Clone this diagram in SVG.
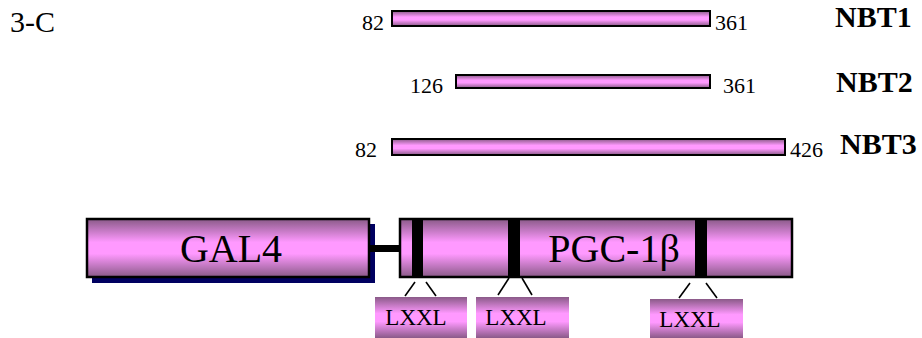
<svg xmlns="http://www.w3.org/2000/svg" width="922" height="338" viewBox="0 0 922 338">
<defs>
<linearGradient id="g" x1="0" y1="0" x2="0" y2="1">
<stop offset="0" stop-color="#8a5a88"/>
<stop offset="0.4" stop-color="#ff99ff"/>
<stop offset="0.6" stop-color="#ff99ff"/>
<stop offset="1" stop-color="#8a5a88"/>
</linearGradient>
<style>
.t{font-family:"Liberation Serif","Times New Roman",serif;fill:#000}
.num{font-size:22px}
.nbt{font-size:30px;font-weight:bold}
.big{font-size:40px}
.lx{font-size:23px}
.bar{fill:url(#g);stroke:#000;stroke-width:2}
.box{fill:url(#g);stroke:#000;stroke-width:2.5}
.lb{fill:url(#g)}
.ln{stroke:#000;stroke-width:1.6;fill:none}
</style>
</defs>
<rect width="922" height="338" fill="#fff"/>
<text class="t" x="10" y="32" font-size="30">3-C</text>

<g id="nbt1">
<rect class="bar" x="392" y="11" width="318" height="15"/>
<text class="t num" x="362" y="30">82</text>
<text class="t num" x="715" y="30">361</text>
<text class="t nbt" x="835" y="27">NBT1</text>
</g>
<g id="nbt2">
<rect class="bar" x="456" y="75" width="254" height="13"/>
<text class="t num" x="410" y="93">126</text>
<text class="t num" x="723" y="93">361</text>
<text class="t nbt" x="836" y="92">NBT2</text>
</g>
<g id="nbt3">
<rect class="bar" x="392" y="139" width="393" height="16"/>
<text class="t num" x="355" y="157">82</text>
<text class="t num" x="790" y="157">426</text>
<text class="t nbt" x="840" y="154">NBT3</text>
</g>

<g id="gal4">
<rect x="92" y="224" width="283" height="59" fill="#000060"/>
<rect class="box" x="87" y="219" width="282" height="58"/>
<text class="t big" x="231" y="262" text-anchor="middle">GAL4</text>
</g>

<g id="connectors">
<line x1="368" y1="248.5" x2="401" y2="248.5" stroke="#000" stroke-width="7"/>
<line class="ln" x1="405" y1="296" x2="415" y2="282"/>
<line class="ln" x1="426" y1="282" x2="436" y2="296"/>
<line class="ln" x1="498" y1="295" x2="509" y2="278"/>
<line class="ln" x1="522" y1="278" x2="532" y2="295"/>
<line class="ln" x1="679" y1="298" x2="690" y2="283"/>
<line class="ln" x1="706" y1="283" x2="717" y2="298"/>
</g>

<g id="pgc1b">
<rect class="box" x="400" y="219" width="392" height="58"/>
<rect x="412" y="220" width="11" height="57" fill="#000"/>
<rect x="508" y="220" width="12" height="58" fill="#000"/>
<rect x="695" y="220" width="12" height="57" fill="#000"/>
<text class="t big" x="614" y="262" text-anchor="middle">PGC-1β</text>
</g>

<g id="lxxl1">
<rect class="lb" x="375" y="297" width="92" height="41"/>
<text class="t lx" x="416" y="325" text-anchor="middle">LXXL</text>
</g>
<g id="lxxl2">
<rect class="lb" x="476" y="297" width="93" height="41"/>
<text class="t lx" x="516" y="325" text-anchor="middle">LXXL</text>
</g>
<g id="lxxl3">
<rect class="lb" x="650" y="299" width="93" height="39"/>
<text class="t lx" x="690" y="327" text-anchor="middle">LXXL</text>
</g>
</svg>
